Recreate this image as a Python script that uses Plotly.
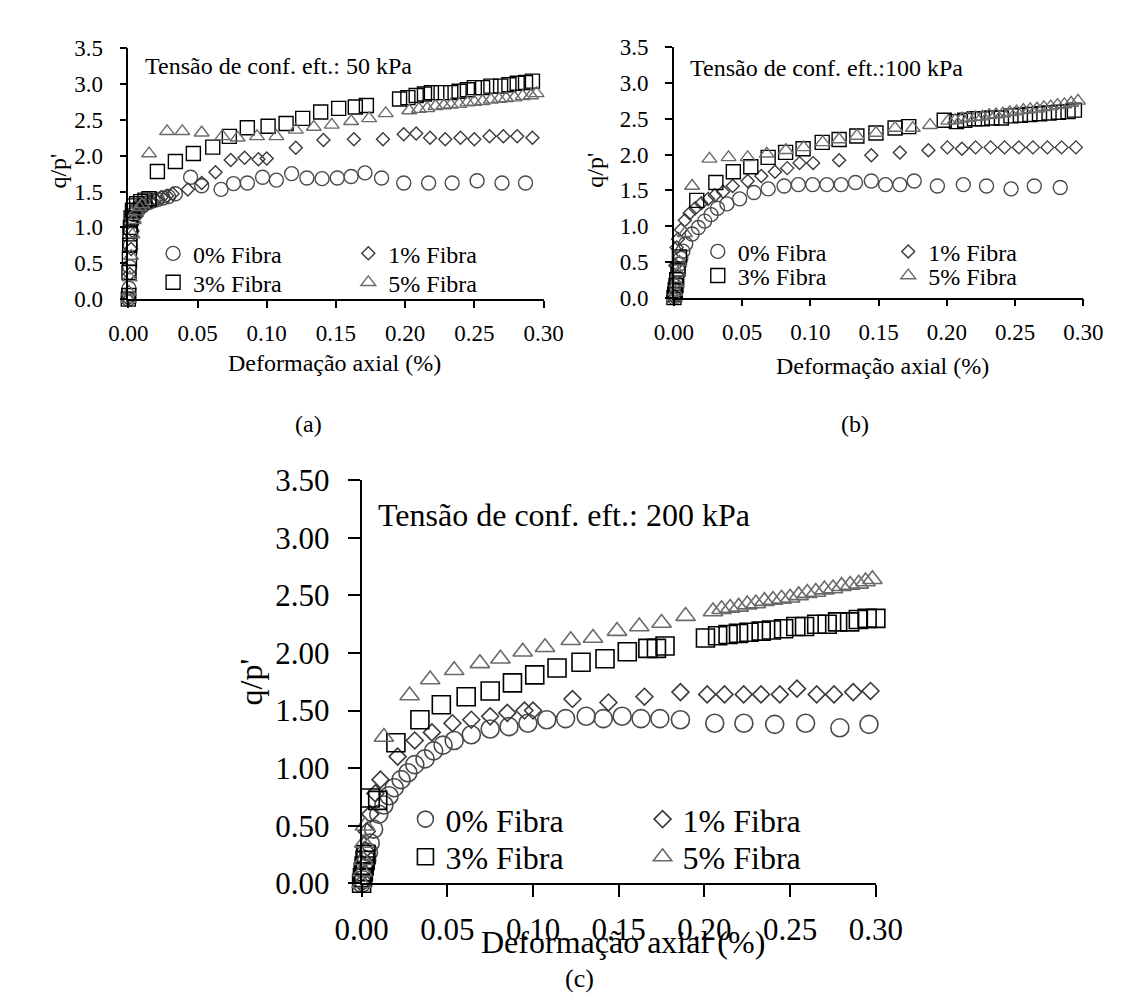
import plotly.graph_objects as go

W, H = 1131, 1003
FONT = "Liberation Serif"

# ---------------- DATA ----------------
series_names = ["0% Fibra", "1% Fibra", "3% Fibra", "5% Fibra"]
panel_titles = ["Tensão de conf. eft.: 50 kPa", "Tensão de conf. eft.:100 kPa", "Tensão de conf. eft.: 200 kPa"]
panel_labels = ["(a)", "(b)", "(c)"]
x_title = "Deformação axial (%)"
y_title = "q/p'"
x_ticks = [0.00, 0.05, 0.10, 0.15, 0.20, 0.25, 0.30]
y_ticks = [0.0, 0.5, 1.0, 1.5, 2.0, 2.5, 3.0, 3.5]

# Panel (a) 50 kPa
a_x0 = [0, 0.0005, 0.001, 0.0015, 0.002, 0.003, 0.004, 0.005, 0.006, 0.008, 0.010, 0.012, 0.015, 0.018, 0.021,
        0.025, 0.029, 0.034, 0.045, 0.053, 0.067, 0.076, 0.086, 0.097, 0.107, 0.118, 0.129, 0.140, 0.151, 0.161,
        0.171, 0.183, 0.199, 0.217, 0.234, 0.252, 0.270, 0.287]
a_y0 = [0, 0.15, 0.45, 0.75, 0.95, 1.10, 1.18, 1.22, 1.26, 1.29, 1.31, 1.33, 1.35, 1.37, 1.39,
        1.41, 1.43, 1.47, 1.70, 1.58, 1.53, 1.61, 1.62, 1.70, 1.66, 1.75, 1.69, 1.68, 1.69, 1.71,
        1.76, 1.69, 1.62, 1.62, 1.62, 1.65, 1.62, 1.62]
a_x1 = [0, 0.001, 0.002, 0.003, 0.004, 0.006, 0.008, 0.010, 0.013, 0.016, 0.020, 0.024, 0.028, 0.032, 0.043,
        0.053, 0.063, 0.074, 0.084, 0.094, 0.100, 0.121, 0.141, 0.163, 0.184, 0.199, 0.208, 0.218, 0.229, 0.240,
        0.250, 0.261, 0.271, 0.281, 0.292]
a_y1 = [0, 0.35, 0.70, 0.95, 1.08, 1.16, 1.22, 1.27, 1.31, 1.35, 1.39, 1.42, 1.44, 1.47, 1.53,
        1.62, 1.77, 1.94, 1.97, 1.95, 1.96, 2.11, 2.22, 2.23, 2.23, 2.30, 2.31, 2.25, 2.23, 2.25,
        2.23, 2.27, 2.27, 2.27, 2.25]
a_x3 = [0, 0.0003, 0.0005, 0.0008, 0.001, 0.0012, 0.0015, 0.002, 0.003, 0.004, 0.006, 0.009, 0.012, 0.015, 0.021,
        0.034, 0.047, 0.061, 0.073, 0.086, 0.101, 0.114, 0.126, 0.139, 0.152, 0.164, 0.172, 0.196, 0.202, 0.208,
        0.214, 0.219, 0.226, 0.233, 0.239, 0.245, 0.250, 0.256, 0.262, 0.269, 0.275, 0.281, 0.287, 0.292]
a_y3 = [0, 0.05, 0.37, 0.57, 0.75, 0.91, 1.00, 1.13, 1.24, 1.30, 1.33, 1.36, 1.38, 1.40, 1.78,
        1.92, 2.03, 2.12, 2.27, 2.39, 2.41, 2.45, 2.52, 2.61, 2.66, 2.68, 2.70, 2.79, 2.81, 2.84,
        2.86, 2.88, 2.88, 2.88, 2.90, 2.92, 2.95, 2.95, 2.97, 2.97, 2.99, 3.01, 3.02, 3.04]
a_x5 = [0, 0.0005, 0.001, 0.002, 0.003, 0.004, 0.006, 0.008, 0.010, 0.015, 0.028, 0.039, 0.053, 0.068, 0.079,
        0.093, 0.107, 0.121, 0.134, 0.147, 0.161, 0.174, 0.186, 0.203, 0.210, 0.216, 0.222, 0.228, 0.233, 0.239,
        0.245, 0.250, 0.256, 0.262, 0.268, 0.273, 0.279, 0.285, 0.291, 0.295]
a_y5 = [0, 0.10, 0.30, 0.60, 0.90, 1.10, 1.22, 1.28, 1.32, 2.03, 2.34, 2.34, 2.32, 2.27, 2.25,
        2.27, 2.27, 2.36, 2.40, 2.43, 2.48, 2.52, 2.59, 2.63, 2.65, 2.66, 2.69, 2.70, 2.71, 2.72,
        2.74, 2.75, 2.76, 2.78, 2.79, 2.80, 2.81, 2.83, 2.84, 2.87]

# Panel (b) 100 kPa
b_x0 = [0, 0.0005, 0.001, 0.0015, 0.002, 0.003, 0.004, 0.005, 0.0065, 0.0086, 0.0133, 0.0179, 0.0225, 0.0272,
        0.0319, 0.0388, 0.0481, 0.0586, 0.069, 0.0807, 0.0911, 0.1016, 0.112, 0.1225, 0.133, 0.1446, 0.155,
        0.1655, 0.176, 0.193, 0.212, 0.229, 0.247, 0.264, 0.283]
b_y0 = [0, 0.05, 0.12, 0.20, 0.28, 0.38, 0.47, 0.55, 0.65, 0.75, 0.89, 0.98, 1.07, 1.16,
        1.25, 1.31, 1.38, 1.47, 1.52, 1.56, 1.58, 1.58, 1.58, 1.58, 1.61, 1.63, 1.58,
        1.58, 1.63, 1.56, 1.58, 1.56, 1.52, 1.56, 1.54]
b_x1 = [0, 0.0005, 0.001, 0.002, 0.003, 0.0051, 0.008, 0.0115, 0.0156, 0.020, 0.025, 0.030, 0.036, 0.043,
        0.054, 0.064, 0.074, 0.083, 0.092, 0.102, 0.121, 0.1446, 0.1655, 0.1864, 0.2003, 0.211, 0.221, 0.232,
        0.2422, 0.2527, 0.263, 0.2736, 0.284, 0.2945]
b_y1 = [0, 0.20, 0.45, 0.70, 0.82, 0.95, 1.08, 1.18, 1.25, 1.32, 1.38, 1.43, 1.48, 1.56,
        1.63, 1.70, 1.76, 1.81, 1.88, 1.88, 1.92, 1.99, 2.03, 2.06, 2.10, 2.08, 2.10, 2.10,
        2.10, 2.10, 2.10, 2.10, 2.10, 2.10]
b_x3 = [0, 0.0005, 0.001, 0.0015, 0.002, 0.003, 0.004, 0.0167, 0.0307, 0.0435, 0.0563, 0.069, 0.0818, 0.0946,
        0.1086, 0.121, 0.134, 0.148, 0.162, 0.172, 0.198, 0.207, 0.2131, 0.2201, 0.2259, 0.2329, 0.2399, 0.2469,
        0.2538, 0.2608, 0.2678, 0.2748, 0.2817, 0.2887, 0.2934]
b_y3 = [0, 0.05, 0.10, 0.17, 0.25, 0.40, 0.57, 1.36, 1.61, 1.76, 1.83, 1.96, 2.03, 2.08,
        2.17, 2.21, 2.26, 2.30, 2.37, 2.39, 2.48, 2.46, 2.48, 2.50, 2.50, 2.51, 2.51, 2.54,
        2.55, 2.56, 2.57, 2.58, 2.59, 2.60, 2.62]
b_x5 = [0, 0.001, 0.002, 0.003, 0.004, 0.008, 0.0133, 0.026, 0.040, 0.054, 0.068, 0.082, 0.095, 0.109, 0.121,
        0.134, 0.148, 0.162, 0.175, 0.1876, 0.201, 0.206, 0.211, 0.216, 0.221, 0.226, 0.231, 0.236, 0.241,
        0.246, 0.251, 0.256, 0.261, 0.266, 0.271, 0.276, 0.281, 0.286, 0.291, 0.296]
b_y5 = [0, 0.08, 0.20, 0.35, 0.50, 0.90, 1.56, 1.94, 1.96, 1.96, 2.01, 2.06, 2.10, 2.17, 2.21,
        2.26, 2.30, 2.37, 2.37, 2.41, 2.47, 2.48, 2.50, 2.51, 2.52, 2.53, 2.55, 2.56, 2.57,
        2.59, 2.60, 2.62, 2.63, 2.64, 2.66, 2.67, 2.69, 2.70, 2.72, 2.75]

# Panel (c) 200 kPa
c_x0 = [0, 0.0005, 0.001, 0.002, 0.003, 0.004, 0.005, 0.007, 0.010, 0.013, 0.016, 0.019, 0.023, 0.027, 0.031,
        0.037, 0.042, 0.0475, 0.054, 0.064, 0.075, 0.086, 0.097, 0.108, 0.119, 0.131, 0.141, 0.152, 0.163,
        0.174, 0.186, 0.206, 0.223, 0.241, 0.259, 0.279, 0.296]
c_y0 = [0, 0.03, 0.07, 0.13, 0.20, 0.27, 0.35, 0.47, 0.60, 0.68, 0.76, 0.83, 0.90, 0.96, 1.03,
        1.08, 1.15, 1.20, 1.24, 1.29, 1.34, 1.36, 1.39, 1.42, 1.43, 1.45, 1.43, 1.45, 1.43,
        1.43, 1.42, 1.39, 1.39, 1.38, 1.39, 1.35, 1.38]
c_x1 = [0, 0.0005, 0.001, 0.002, 0.003, 0.005, 0.008, 0.011, 0.021, 0.031, 0.041, 0.053, 0.064, 0.075, 0.085,
        0.095, 0.100, 0.123, 0.144, 0.165, 0.186, 0.2016, 0.2117, 0.2229, 0.233, 0.244, 0.254, 0.2655, 0.2756,
        0.2868, 0.2969]
c_y1 = [0, 0.10, 0.20, 0.29, 0.45, 0.60, 0.78, 0.90, 1.10, 1.24, 1.31, 1.39, 1.42, 1.45, 1.48,
        1.50, 1.50, 1.60, 1.57, 1.62, 1.66, 1.64, 1.64, 1.64, 1.64, 1.64, 1.69, 1.64, 1.64,
        1.66, 1.67]
c_x3 = [0, 0.0005, 0.001, 0.0015, 0.002, 0.0025, 0.005, 0.0094, 0.020, 0.034, 0.0465, 0.061, 0.075, 0.088,
        0.101, 0.114, 0.128, 0.142, 0.155, 0.167, 0.172, 0.177, 0.2006, 0.2077, 0.2138, 0.2199, 0.2260, 0.2331,
        0.2391, 0.2462, 0.2533, 0.2584, 0.2655, 0.2716, 0.2777, 0.2847, 0.2898, 0.2949, 0.300]
c_y3 = [0, 0.05, 0.10, 0.15, 0.20, 0.25, 0.74, 0.72, 1.22, 1.42, 1.55, 1.62, 1.67, 1.74,
        1.81, 1.87, 1.92, 1.95, 2.01, 2.04, 2.04, 2.06, 2.13, 2.15, 2.16, 2.17, 2.18, 2.19,
        2.20, 2.21, 2.23, 2.23, 2.25, 2.25, 2.27, 2.27, 2.29, 2.30, 2.30]
c_x5 = [0, 0.0005, 0.001, 0.0015, 0.002, 0.013, 0.028, 0.040, 0.054, 0.069, 0.081, 0.094, 0.107, 0.122, 0.135,
        0.149, 0.162, 0.175, 0.189, 0.205, 0.210, 0.215, 0.220, 0.225, 0.230, 0.235, 0.240, 0.245, 0.250,
        0.255, 0.260, 0.265, 0.270, 0.275, 0.280, 0.285, 0.290, 0.294, 0.298]
c_y5 = [0, 0.10, 0.20, 0.35, 0.50, 1.27, 1.63, 1.77, 1.85, 1.91, 1.95, 2.01, 2.05, 2.11, 2.13,
        2.19, 2.23, 2.26, 2.32, 2.36, 2.38, 2.39, 2.40, 2.42, 2.43, 2.45, 2.46, 2.47, 2.48,
        2.50, 2.52, 2.53, 2.55, 2.56, 2.58, 2.59, 2.60, 2.62, 2.64]

# ---------------- STYLE ----------------
symbols = ["circle-open", "diamond-open", "square-open", "triangle-up-open"]
colors = ["#4a4a4a", "#3a3a3a", "#000000", "#6a6a6a"]

def px_x(p):
    return p / W

def px_y(p):
    return 1 - p / H

panels = [
    dict(xs=[a_x0, a_x1, a_x3, a_x5], ys=[a_y0, a_y1, a_y3, a_y5],
         xdom=(98, 534), ydom=(284, 24), fs=23, tfs=24, ytf=".1f", msize=[14, 10, 14, 13], lw=1.4,
         ticklen=7, axlw=1.6,
         leg_left=[(124, 237), (329, 237), (124, 267), (329, 267)],
         ttl=(113, 43), ytitle=(24, 151), xtitle=(315, 350), lab=(287, 413)),
    dict(xs=[b_x0, b_x1, b_x3, b_x5], ys=[b_y0, b_y1, b_y3, b_y5],
         xdom=(671, 1101), ydom=(282.5, 23), fs=23, tfs=24, ytf=".1f", msize=[14, 10, 14, 13], lw=1.4,
         ticklen=7, axlw=1.6,
         leg_left=[(696, 235), (896, 235), (696, 260), (896, 260)],
         ttl=(686, 45), ytitle=(588, 150), xtitle=(890, 353), lab=(861, 413)),
    dict(xs=[c_x0, c_x1, c_x3, c_x5], ys=[c_y0, c_y1, c_y3, c_y5],
         xdom=(343, 883), ydom=(889.3, 471.7), fs=31, tfs=32, ytf=".2f", msize=[18, 13, 18, 17], lw=1.6,
         ticklen=12, axlw=2,
         leg_left=[(389, 823), (638, 823), (389, 862), (638, 862)],
         ttl=(358, 508), ytitle=(227, 681), xtitle=(617, 950), lab=(572, 988)),
]

fig = go.Figure()
layout = dict(width=W, height=H, margin=dict(l=0, r=0, t=0, b=0),
              paper_bgcolor="white", plot_bgcolor="white", showlegend=True,
              font=dict(family=FONT, color="black"))
annotations = []
leg_idx = 0
for p, P in enumerate(panels):
    ax = "" if p == 0 else str(p + 1)
    fs = P["fs"]
    tfs = P["tfs"]
    for s in range(4):
        leg_idx += 1
        lname = "legend" if leg_idx == 1 else f"legend{leg_idx}"
        fig.add_trace(go.Scatter(
            x=P["xs"][s], y=P["ys"][s], mode="markers", name=series_names[s],
            xaxis="x" + ax, yaxis="y" + ax, cliponaxis=False,
            marker=dict(symbol=symbols[s], size=P["msize"][s], color=colors[s],
                        line=dict(width=P["lw"], color=colors[s])),
            legend=lname, showlegend=True))
        lx, ly = P["leg_left"][s]
        layout[lname] = dict(x=px_x(lx), y=px_y(ly), xanchor="left", yanchor="middle",
                             bgcolor="rgba(0,0,0,0)", borderwidth=0, itemsizing="trace",
                             font=dict(family=FONT, size=tfs, color="black"))
    axis_common = dict(showline=True, linecolor="black", linewidth=P["axlw"], ticks="outside",
                       ticklen=P["ticklen"], tickwidth=P["axlw"], tickcolor="black",
                       showgrid=False, zeroline=False,
                       tickfont=dict(family=FONT, size=fs, color="black"))
    layout["xaxis" + ax] = dict(domain=[px_x(P["xdom"][0]), px_x(P["xdom"][1])], anchor="y" + ax,
                                range=[0, 0.30], tickmode="array", tickvals=x_ticks,
                                ticktext=[f"{v:.2f}" for v in x_ticks], ticklabelstandoff=6,
                                **axis_common)
    layout["yaxis" + ax] = dict(domain=[px_y(P["ydom"][0]), px_y(P["ydom"][1])], anchor="x" + ax,
                                range=[0, 3.5], tickmode="array", tickvals=y_ticks,
                                ticktext=[format(v, P["ytf"]) for v in y_ticks], ticklabelstandoff=12,
                                **axis_common)
    annotations.append(dict(text=panel_titles[p], xref="paper", yref="paper",
                            x=px_x(P["ttl"][0]), y=px_y(P["ttl"][1]), xanchor="left", yanchor="middle",
                            showarrow=False, font=dict(family=FONT, size=tfs, color="black")))
    annotations.append(dict(text=y_title, xref="paper", yref="paper", textangle=-90,
                            x=px_x(P["ytitle"][0]), y=px_y(P["ytitle"][1]), xanchor="center", yanchor="middle",
                            showarrow=False, font=dict(family=FONT, size=tfs, color="black")))
    annotations.append(dict(text=x_title, xref="paper", yref="paper",
                            x=px_x(P["xtitle"][0]), y=px_y(P["xtitle"][1]), xanchor="center", yanchor="middle",
                            showarrow=False, font=dict(family=FONT, size=tfs, color="black")))
    annotations.append(dict(text=panel_labels[p], xref="paper", yref="paper",
                            x=px_x(P["lab"][0]), y=px_y(P["lab"][1]), xanchor="center", yanchor="middle",
                            showarrow=False, font=dict(family=FONT, size=24 if p < 2 else 26, color="black")))

layout["annotations"] = annotations
fig.update_layout(**layout)
fig.write_html("out.html")
